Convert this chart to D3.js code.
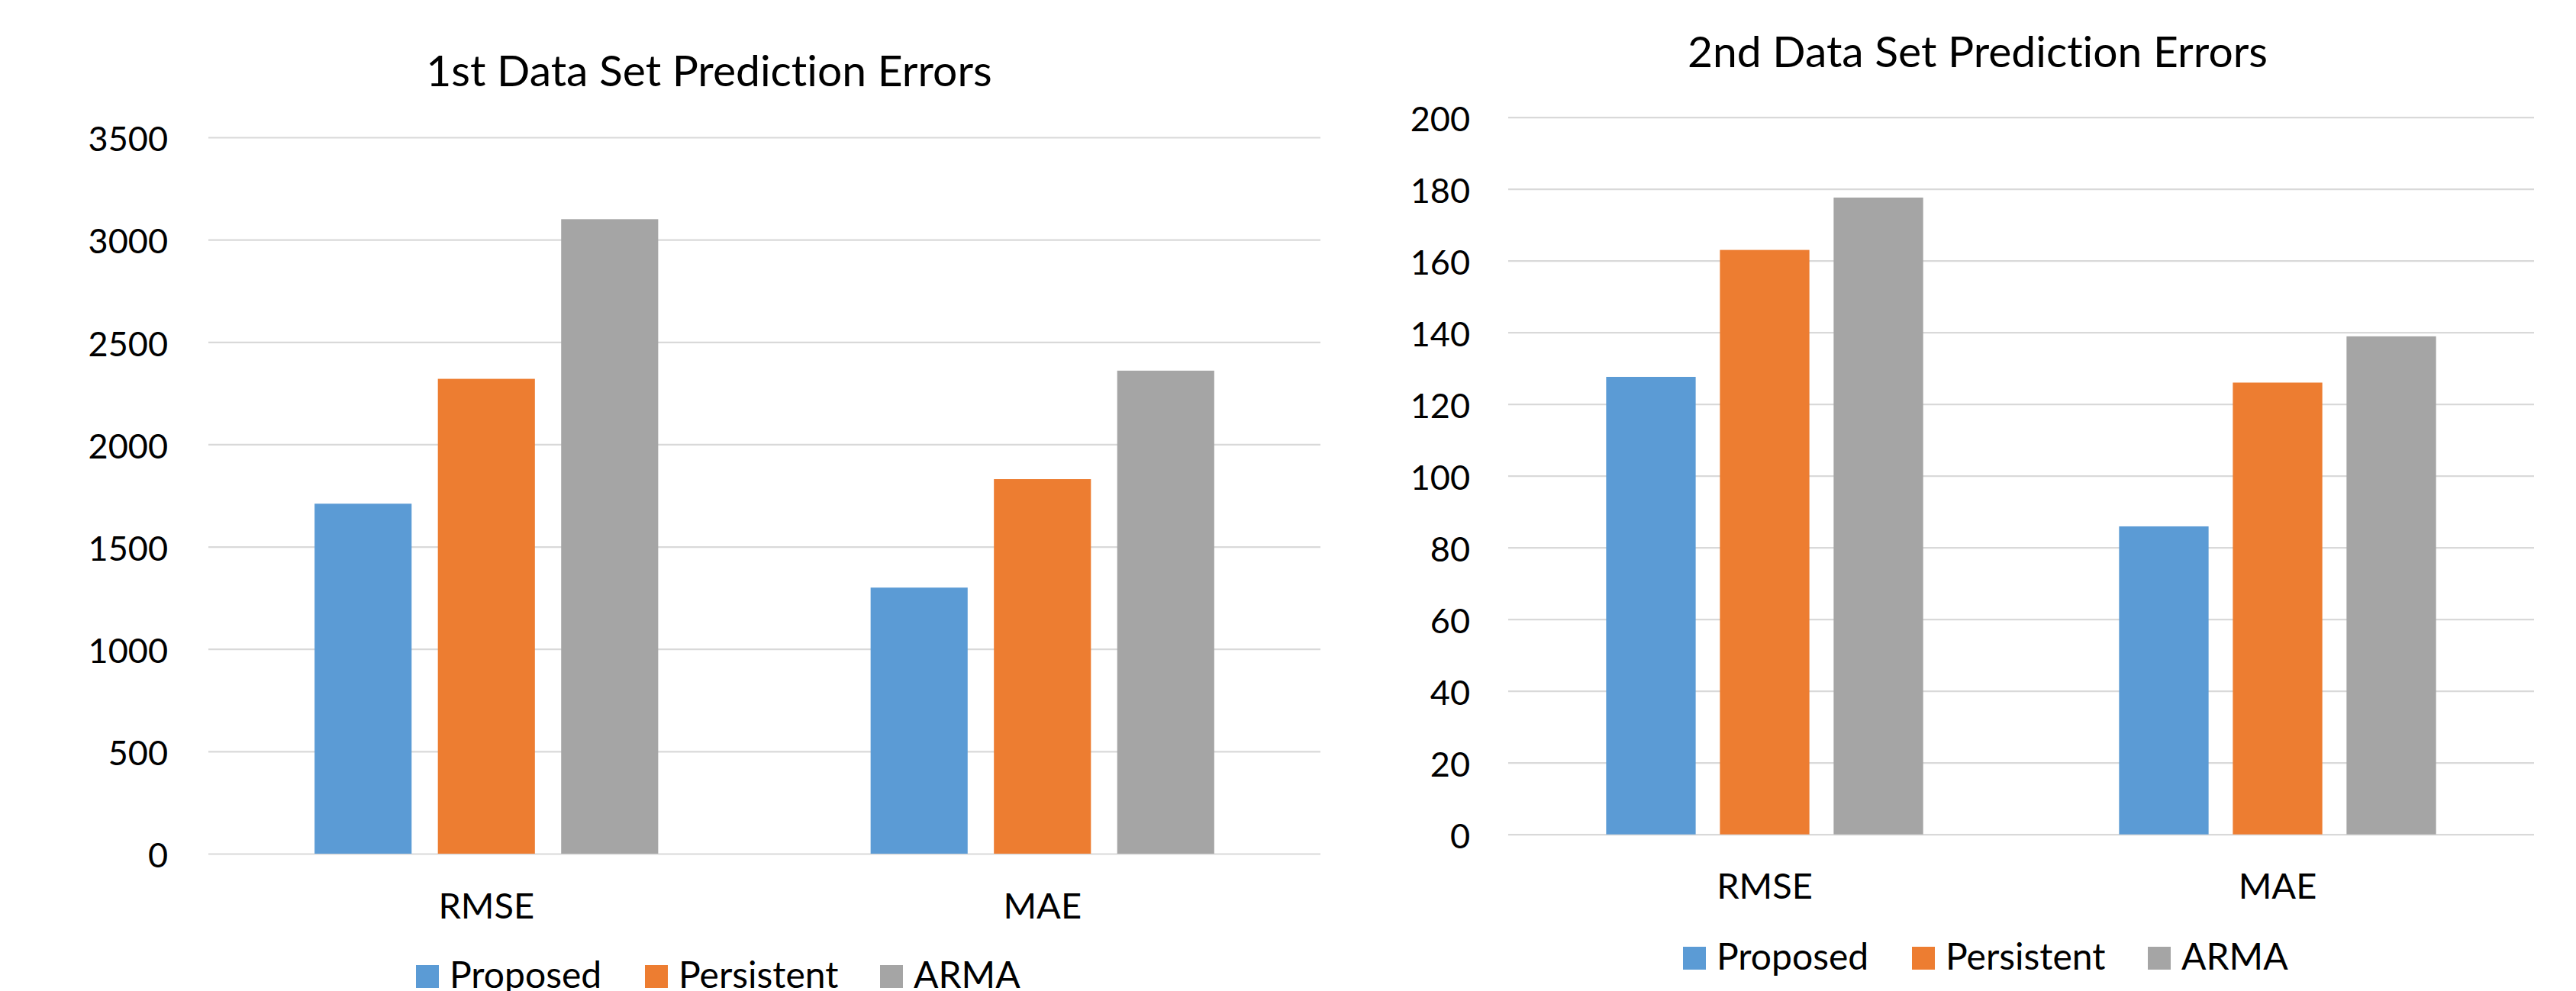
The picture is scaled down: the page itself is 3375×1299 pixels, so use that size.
<!DOCTYPE html>
<html>
<head>
<meta charset="utf-8">
<script src="https://cdn.jsdelivr.net/npm/d3@7"></script>
<style>
  html, body { margin: 0; padding: 0; background: #fff; }
  svg { display: block; font-family: Lato, "Open Sans", sans-serif; }
  svg text { font-variant-ligatures: none; font-feature-settings: "liga" 0, "clig" 0; }
</style>
</head>
<body>
<svg id="chart" width="3375" height="1299"></svg>
<script>
// Error metrics shown on the x axis
const categories = ["RMSE", "MAE"];
// Forecasting methods (one bar per method in each group)
const series = ["Proposed", "Persistent", "ARMA"];
const seriesColors = ["#5B9BD5", "#ED7D31", "#A5A5A5"];

// 1st data set: rows follow categories, columns follow series
const set1Title = "1st Data Set Prediction Errors";
const set1Values = [
  [1710, 2320, 3100],
  [1300, 1830, 2360]
];
const set1Ticks = [0, 500, 1000, 1500, 2000, 2500, 3000, 3500];

// 2nd data set
const set2Title = "2nd Data Set Prediction Errors";
const set2Values = [
  [127.6, 163, 177.6],
  [85.9, 126, 138.9]
];
const set2Ticks = [0, 20, 40, 60, 80, 100, 120, 140, 160, 180, 200];

const svg = d3.select("#chart");

function drawPanel(cfg) {
  const g = svg.append("g");
  const ticks = cfg.ticks;

  const y = d3.scaleLinear()
    .domain([0, d3.max(ticks)])
    .range([cfg.plot.bottom, cfg.plot.top]);

  const x0 = d3.scaleBand()
    .domain(categories)
    .range([cfg.plot.left, cfg.plot.right])
    .padding(0);

  const groupW = x0.bandwidth() * 0.618;
  const x1 = d3.scaleBand()
    .domain(series)
    .range([0, groupW])
    .paddingInner(0.213)
    .paddingOuter(0);

  // Horizontal gridlines with value labels
  const yAxis = d3.axisLeft(y)
    .tickValues(ticks)
    .tickSize(-(cfg.plot.right - cfg.plot.left))
    .tickPadding(cfg.plot.left - cfg.labelRight)
    .tickFormat(d3.format("d"));

  const ya = g.append("g")
    .attr("transform", `translate(${cfg.plot.left},0)`)
    .call(yAxis);
  ya.select(".domain").remove();
  ya.selectAll(".tick line")
    .attr("stroke", "#d9d9d9")
    .attr("stroke-width", 2.2);
  ya.selectAll(".tick text")
    .attr("font-size", 45)
    .attr("fill", "#000")
    .attr("dy", "0.35em")
    .attr("y", 2)
    .attr("font-family", "Lato, sans-serif");

  // Bars
  const groups = g.append("g").selectAll("g")
    .data(categories)
    .join("g")
    .attr("transform", c => `translate(${x0(c) + (x0.bandwidth() - groupW) / 2},0)`);

  groups.selectAll("rect")
    .data((c, i) => series.map((s, j) => ({ s, j, v: cfg.values[i][j] })))
    .join("rect")
    .attr("x", d => x1(d.s))
    .attr("width", x1.bandwidth())
    .attr("y", d => y(d.v))
    .attr("height", d => y(0) - y(d.v))
    .attr("fill", d => seriesColors[d.j]);

  // Category labels
  const xa = g.append("g")
    .attr("transform", `translate(0,${cfg.catBaseline})`)
    .call(d3.axisBottom(x0).tickSize(0).tickPadding(0));
  xa.select(".domain").remove();
  xa.selectAll(".tick text")
    .attr("font-size", 47)
    .attr("fill", "#000")
    .attr("dy", 0)
    .attr("y", 0)
    .attr("font-family", "Lato, sans-serif");

  // Title
  g.append("text")
    .attr("x", cfg.titleX)
    .attr("y", cfg.titleBaseline)
    .attr("text-anchor", "middle")
    .attr("font-size", 57)
    .attr("fill", "#000")
    .text(cfg.title);

  // Legend
  const leg = g.append("g")
    .attr("transform", `translate(${cfg.legend.x},${cfg.legend.baseline})`);
  const items = leg.selectAll("g")
    .data(series)
    .join("g")
    .attr("transform", (d, i) => `translate(${cfg.legend.offsets[i]},0)`);
  items.append("rect")
    .attr("x", 0)
    .attr("y", -30)
    .attr("width", 30)
    .attr("height", 30)
    .attr("fill", (d, i) => seriesColors[i]);
  items.append("text")
    .attr("x", 44)
    .attr("y", 0)
    .attr("font-size", 48)
    .attr("fill", "#000")
    .text(d => d);
}

drawPanel({
  title: set1Title,
  values: set1Values,
  ticks: set1Ticks,
  plot: { left: 273, right: 1730, top: 180, bottom: 1119 },
  labelRight: 220,
  catBaseline: 1204,
  titleX: 929,
  titleBaseline: 113,
  legend: { x: 545, baseline: 1295, offsets: [0, 300, 608] }
});

drawPanel({
  title: set2Title,
  values: set2Values,
  ticks: set2Ticks,
  plot: { left: 1976, right: 3320, top: 153.7, bottom: 1093.7 },
  labelRight: 1926,
  catBaseline: 1178,
  titleX: 2591,
  titleBaseline: 88,
  legend: { x: 2205, baseline: 1271, offsets: [0, 300, 609] }
});
</script>
</body>
</html>
